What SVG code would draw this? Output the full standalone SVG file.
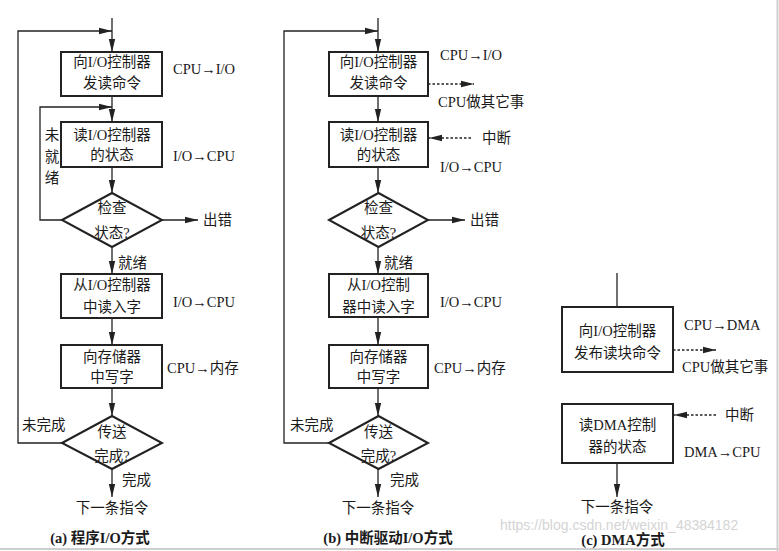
<svg xmlns="http://www.w3.org/2000/svg" width="779" height="551" viewBox="0 0 779 551">
<defs>
<style>
.bx{fill:none;stroke:#222;stroke-width:2}
.ln{fill:none;stroke:#222;stroke-width:1.3}
.dt{fill:none;stroke:#222;stroke-width:1.3;stroke-dasharray:2.5 2}
text{font-family:"Liberation Serif","Noto Sans CJK SC",serif;font-size:14.5px;fill:#1a1a1a}
.c{text-anchor:middle}
.cap{font-size:14.5px;font-weight:bold;text-anchor:middle}
.wm{font-family:"Liberation Sans",Arial,sans-serif;font-size:14px;fill:#d4d4d4}
</style>
<marker id="ar" markerUnits="userSpaceOnUse" markerWidth="14" markerHeight="8" refX="13" refY="4" orient="auto">
<path d="M0,0.8 L13,4 L0,7.2 Z" fill="#222"/>
</marker>
</defs>
<rect width="779" height="551" fill="#fff"/>
<line x1="777.5" y1="0" x2="777.5" y2="551" stroke="#cfcfcf" stroke-width="2"/>
<line x1="0" y1="549" x2="779" y2="549" stroke="#cfcfcf" stroke-width="2"/>

<g id="connectors">
<!-- panel a -->
<line class="ln" x1="112" y1="18" x2="112" y2="52" marker-end="url(#ar)"/>
<polyline class="ln" points="62,443 18,443 18,31 112,31" marker-end="url(#ar)"/>
<line class="ln" x1="112" y1="96" x2="112" y2="122" marker-end="url(#ar)"/>
<polyline class="ln" points="62,220 40,220 40,107 112,107" marker-end="url(#ar)"/>
<line class="ln" x1="112" y1="167" x2="112" y2="193" marker-end="url(#ar)"/>
<line class="ln" x1="162" y1="220" x2="198" y2="220" marker-end="url(#ar)"/>
<line class="ln" x1="112" y1="247" x2="112" y2="274" marker-end="url(#ar)"/>
<line class="ln" x1="112" y1="318" x2="112" y2="345" marker-end="url(#ar)"/>
<line class="ln" x1="112" y1="388" x2="112" y2="416" marker-end="url(#ar)"/>
<line class="ln" x1="112" y1="469" x2="112" y2="497" marker-end="url(#ar)"/>
<!-- panel b -->
<line class="ln" x1="378" y1="18" x2="378" y2="52" marker-end="url(#ar)"/>
<polyline class="ln" points="329,443 284,443 284,31 378,31" marker-end="url(#ar)"/>
<line class="ln" x1="378" y1="96" x2="378" y2="122" marker-end="url(#ar)"/>
<line class="dt" x1="428" y1="84" x2="474" y2="84" marker-end="url(#ar)"/>
<line class="dt" x1="471" y1="138" x2="429" y2="138" marker-end="url(#ar)"/>
<line class="ln" x1="378" y1="167" x2="378" y2="193" marker-end="url(#ar)"/>
<line class="ln" x1="428" y1="220" x2="465" y2="220" marker-end="url(#ar)"/>
<line class="ln" x1="378" y1="247" x2="378" y2="274" marker-end="url(#ar)"/>
<line class="ln" x1="378" y1="317" x2="378" y2="345" marker-end="url(#ar)"/>
<line class="ln" x1="378" y1="388" x2="378" y2="416" marker-end="url(#ar)"/>
<line class="ln" x1="378" y1="469" x2="378" y2="497" marker-end="url(#ar)"/>
<!-- panel c -->
<line class="ln" x1="617" y1="273" x2="617" y2="307"/>
<line class="dt" x1="673" y1="350" x2="716" y2="350" marker-end="url(#ar)"/>
<line class="dt" x1="716" y1="415" x2="674" y2="415" marker-end="url(#ar)"/>
<line class="ln" x1="617" y1="463" x2="617" y2="497" marker-end="url(#ar)"/>
</g>

<g id="a-send">
<rect class="bx" x="61" y="52" width="101" height="44"/>
<text class="c" x="112" y="67">向I/O控制器</text>
<text class="c" x="112" y="88">发读命令</text>
<text x="173" y="74">CPU→I/O</text>
</g>
<g id="a-read">
<rect class="bx" x="61" y="122" width="101" height="45"/>
<text class="c" x="112" y="140">读I/O控制器</text>
<text class="c" x="112" y="160">的状态</text>
<text x="173" y="161">I/O→CPU</text>
<text class="c" x="52" y="140">未</text>
<text class="c" x="52" y="162">就</text>
<text class="c" x="52" y="183">绪</text>
</g>
<g id="a-check">
<polygon class="bx" points="62,220 112,193 162,220 112,247"/>
<text class="c" x="112" y="213">检查</text>
<text class="c" x="112" y="238">状态?</text>
<text x="203" y="225">出错</text>
<text x="118" y="268">就绪</text>
</g>
<g id="a-input">
<rect class="bx" x="61" y="274" width="101" height="44"/>
<text class="c" x="112" y="290">从I/O控制器</text>
<text class="c" x="112" y="312">中读入字</text>
<text x="173" y="307">I/O→CPU</text>
</g>
<g id="a-write">
<rect class="bx" x="61" y="345" width="101" height="43"/>
<text class="c" x="112" y="362">向存储器</text>
<text class="c" x="112" y="382">中写字</text>
<text x="167" y="373">CPU→内存</text>
</g>
<g id="a-done">
<polygon class="bx" points="62,443 112,416 162,443 112,469"/>
<text class="c" x="112" y="437">传送</text>
<text class="c" x="112" y="461">完成?</text>
<text x="22" y="430">未完成</text>
<text x="122" y="485">完成</text>
<text class="c" x="112" y="513">下一条指令</text>
<text class="cap" x="100" y="543">(a) 程序I/O方式</text>
</g>

<g id="b-send">
<rect class="bx" x="329" y="52" width="99" height="44"/>
<text class="c" x="378.5" y="67">向I/O控制器</text>
<text class="c" x="378.5" y="88">发读命令</text>
<text x="440" y="60">CPU→I/O</text>
<text x="438" y="107">CPU做其它事</text>
</g>
<g id="b-read">
<rect class="bx" x="329" y="122" width="99" height="45"/>
<text class="c" x="378.5" y="140">读I/O控制器</text>
<text class="c" x="378.5" y="160">的状态</text>
<text x="482" y="143">中断</text>
<text x="440" y="172">I/O→CPU</text>
</g>
<g id="b-check">
<polygon class="bx" points="329,220 378.5,193 428,220 378.5,247"/>
<text class="c" x="378.5" y="213">检查</text>
<text class="c" x="378.5" y="238">状态?</text>
<text x="470" y="225">出错</text>
<text x="384" y="268">就绪</text>
</g>
<g id="b-input">
<rect class="bx" x="329" y="274" width="99" height="43"/>
<text class="c" x="378.5" y="290">从I/O控制</text>
<text class="c" x="378.5" y="312">器中读入字</text>
<text x="440" y="307">I/O→CPU</text>
</g>
<g id="b-write">
<rect class="bx" x="329" y="345" width="99" height="43"/>
<text class="c" x="378.5" y="362">向存储器</text>
<text class="c" x="378.5" y="382">中写字</text>
<text x="434" y="373">CPU→内存</text>
</g>
<g id="b-done">
<polygon class="bx" points="329,443 378.5,416 428,443 378.5,469"/>
<text class="c" x="378.5" y="437">传送</text>
<text class="c" x="378.5" y="461">完成?</text>
<text x="290" y="430">未完成</text>
<text x="390" y="485">完成</text>
<text class="c" x="378" y="513">下一条指令</text>
<text class="cap" x="388" y="543">(b) 中断驱动I/O方式</text>
</g>

<g id="c-send">
<rect class="bx" x="562" y="307" width="111" height="65"/>
<text class="c" x="617.5" y="336">向I/O控制器</text>
<text class="c" x="617.5" y="358">发布读块命令</text>
<text x="684" y="330">CPU→DMA</text>
<text x="682" y="372">CPU做其它事</text>
</g>
<g id="c-read">
<rect class="bx" x="562" y="404" width="111" height="59"/>
<text class="c" x="617.5" y="430">读DMA控制</text>
<text class="c" x="617.5" y="452">器的状态</text>
<text x="725" y="420">中断</text>
<text x="684" y="457">DMA→CPU</text>
<text class="c" x="617" y="512">下一条指令</text>
<text class="cap" x="623" y="545">(c) DMA方式</text>
</g>
<text class="wm" x="500" y="530">https://blog.csdn.net/weixin_48384182</text>
</svg>
